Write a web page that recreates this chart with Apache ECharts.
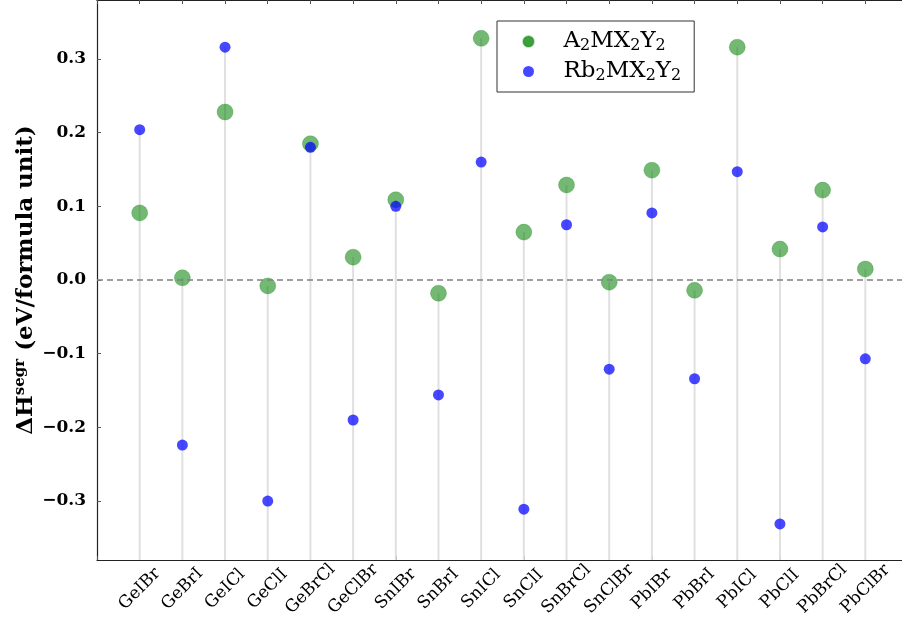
<!DOCTYPE html>
<html><head><meta charset="utf-8">
<script src="https://cdn.jsdelivr.net/npm/echarts@6/dist/echarts.min.js"></script>
<style>html,body{margin:0;padding:0;background:#fff;overflow:hidden}#c{width:902px;height:623px;overflow:hidden}</style>
</head><body><div id="c"></div>
<script>
const categories = ['GeIBr','GeBrI','GeICl','GeClI','GeBrCl','GeClBr','SnIBr','SnBrI','SnICl','SnClI','SnBrCl','SnClBr','PbIBr','PbBrI','PbICl','PbClI','PbBrCl','PbClBr'];
const seriesA = [0.091, 0.003, 0.228, -0.008, 0.185, 0.031, 0.109, -0.018, 0.328, 0.065, 0.129, -0.003, 0.149, -0.014, 0.316, 0.042, 0.122, 0.015];
const seriesRb = [0.204, -0.224, 0.316, -0.300, 0.180, -0.190, 0.100, -0.156, 0.160, -0.311, 0.075, -0.121, 0.091, -0.134, 0.147, -0.331, 0.072, -0.107];
const nameA = 'A2MX2Y2';
const nameRb = 'Rb2MX2Y2';
const yMin = -0.38, yMax = 0.38;

const stemData = categories.map((c, i) => [i, Math.max(seriesA[i], seriesRb[i])]);
const serif = 'DejaVu Serif';

const chart = echarts.init(document.getElementById('c'), null, {renderer: 'canvas'});
chart.setOption({
  animation: false,
  backgroundColor: '#fff',
  grid: {left: 97, width: 811, top: 0, height: 560, containLabel: false, outerBoundsMode: 'none', show: false},
  xAxis: [{
    type: 'value', min: -1, max: 18, interval: 1, position: 'bottom',
    axisLine: {show: true, onZero: false, lineStyle: {color: '#222', width: 1.2}},
    axisTick: {show: true, inside: true, length: 4, lineStyle: {color: '#555'}},
    splitLine: {show: false},
    axisLabel: {
      rotate: 45, margin: 29, align: 'center', verticalAlign: 'middle',
      fontFamily: serif, fontSize: 17, color: '#000',
      formatter: v => (v >= 0 && v < categories.length && Number.isInteger(v)) ? categories[v] : ''
    }
  }, {
    type: 'value', min: -1, max: 18, interval: 1, position: 'top',
    axisLine: {show: true, onZero: false, lineStyle: {color: '#222', width: 1.2}},
    axisTick: {show: true, inside: true, length: 4, lineStyle: {color: '#555'}},
    splitLine: {show: false}, axisLabel: {show: false}
  }],
  yAxis: {
    type: 'value', min: yMin, max: yMax, splitNumber: 8,
    axisLine: {show: true, onZero: false, lineStyle: {color: '#222', width: 1.2}},
    axisTick: {show: true, inside: true, length: 4, lineStyle: {color: '#555'}},
    splitLine: {show: false},
    axisLabel: {
      showMinLabel: false, showMaxLabel: false, margin: 11,
      fontFamily: serif, fontSize: 17, fontWeight: 'bold', color: '#000',
      formatter: v => {
        const r = Math.round(v * 10) / 10;
        if (Math.abs(v - r) > 1e-6) return '';
        const s = Math.abs(r).toFixed(1);
        return r < 0 ? '\u2212' + s : s;
      }
    },
    name: '{b|ΔH}{sup|segr}{b| (eV/formula unit)}',
    nameLocation: 'middle', nameRotate: 90, nameGap: 57, nameMoveOverlap: false,
    nameTextStyle: {
      fontFamily: serif, fontSize: 23, fontWeight: 'bold', color: '#000',
      rich: {
        b: {fontFamily: serif, fontSize: 23, fontWeight: 'bold', color: '#000'},
        sup: {fontFamily: serif, fontSize: 15, fontWeight: 'bold', color: '#000', padding: [0, 0, 12, 0]}
      }
    }
  },
  legend: {
    left: 497, top: 21, orient: 'vertical',
    data: [
      {name: nameA, icon: 'circle', itemStyle: {color: 'rgb(60,160,60)'}},
      {name: nameRb, icon: 'circle', itemStyle: {color: 'rgb(70,70,255)'}}
    ],
    itemWidth: 22, itemHeight: 11, itemGap: 6,
    padding: [9, 13, 8, 25],
    borderColor: '#333', borderWidth: 1, borderRadius: 0, backgroundColor: '#fff',
    formatter: n => n.replace(/2/g, '{sub|2}'),
    textStyle: {
      fontFamily: serif, fontSize: 23, color: '#000', lineHeight: 22, padding: [0, 0, 0, 19],
      rich: {sub: {fontFamily: serif, fontSize: 16, color: '#000', padding: [9, 0, 0, 0]}}
    }
  },
  series: [{
    type: 'custom', name: 'stems', silent: true, z: 1,
    data: stemData,
    renderItem: (params, api) => {
      const x = api.value(0), top = api.value(1);
      const p0 = api.coord([x, yMin]);
      const p1 = api.coord([x, top]);
      return {type: 'line', shape: {x1: p0[0], y1: p0[1], x2: p1[0], y2: p1[1]},
              style: {stroke: '#e0e0e0', lineWidth: 2}};
    }
  }, {
    type: 'scatter', name: nameA, z: 3, symbolSize: 16,
    data: seriesA.map((v, i) => [i, v]),
    itemStyle: {color: 'rgba(0,128,0,0.55)', borderColor: 'rgba(0,128,0,0.25)', borderWidth: 1, opacity: 1},
    markLine: {
      silent: true, symbol: 'none', label: {show: false},
      lineStyle: {color: '#808080', type: [6, 4], width: 1.5},
      data: [{yAxis: 0}]
    }
  }, {
    type: 'scatter', name: nameRb, z: 4, symbolSize: 11,
    data: seriesRb.map((v, i) => [i, v]),
    itemStyle: {color: 'rgba(0,0,255,0.72)', opacity: 1}
  }]
});
</script></body></html>
